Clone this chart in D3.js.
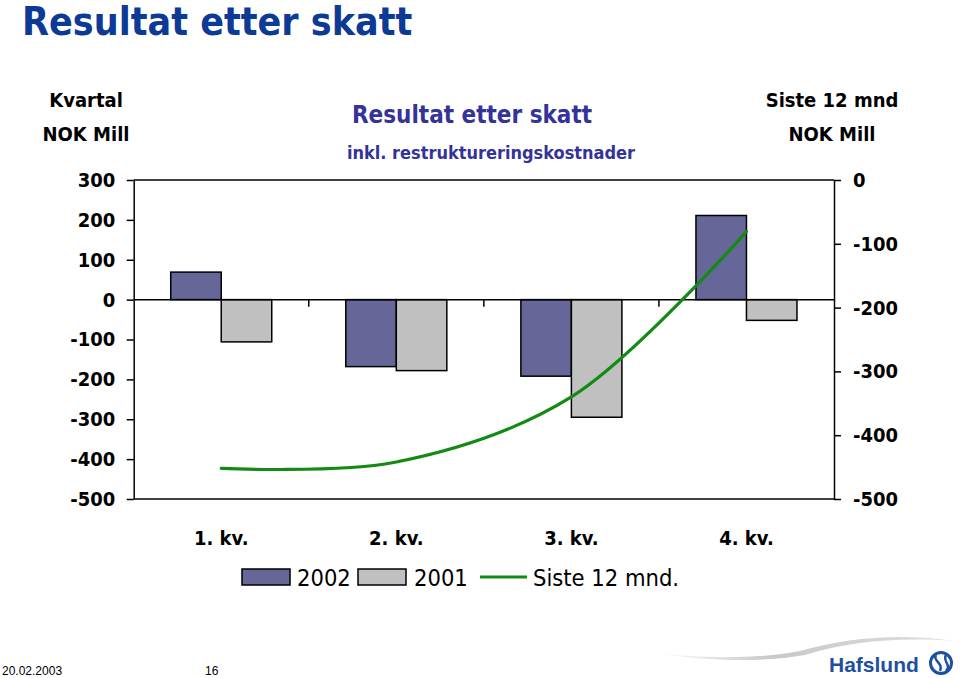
<!DOCTYPE html>
<html>
<head>
<meta charset="utf-8">
<script src="https://cdn.jsdelivr.net/npm/d3@7/dist/d3.min.js"></script>
<style>
  html, body { margin: 0; padding: 0; background: #fff; }
  svg { display: block; }
  .cond { font-family: "DejaVu Sans Condensed", "DejaVu Sans", sans-serif; font-stretch: condensed; }
</style>
</head>
<body>
<svg id="chart" width="960" height="678"></svg>
<script>
// ---- Data ----
const categories = ["1. kv.", "2. kv.", "3. kv.", "4. kv."];
const seriesNames = ["2002", "2001"];
const values2002 = [69, -168, -192, 211];
const values2001 = [-106, -178, -295, -52];
const rolling12 = [-452, -442, -340, -81];
const leftTicks = [300, 200, 100, 0, -100, -200, -300, -400, -500];
const rightTicks = [0, -100, -200, -300, -400, -500];
const lineLabel = "Siste 12 mnd.";

// ---- Layout ----
const svg = d3.select("#chart");
const plot = { left: 133.7, right: 834, top: 180, bottom: 499 };
const colors = { "2002": "#666699", "2001": "#c0c0c0" };
const fontFam = '"DejaVu Sans Condensed", "DejaVu Sans", sans-serif';

const x = d3.scaleBand().domain(categories).range([plot.left, plot.right]).padding(0);
const x1 = d3.scaleBand().domain(seriesNames).range([0, x.bandwidth()]).paddingInner(0).paddingOuter(0.733);
const y = d3.scaleLinear().domain([-500, 300]).range([plot.bottom, plot.top]);
const y2 = d3.scaleLinear().domain([-500, 0]).range([plot.bottom, plot.top]);

// Main title
svg.append("text").attr("class", "cond")
  .attr("x", 22).attr("y", 35)
  .attr("font-size", 39).attr("font-weight", "bold")
  .attr("fill", "#0d3a94")
  .text("Resultat etter skatt");

// Chart titles
svg.append("text").attr("class", "cond")
  .attr("x", 472).attr("y", 123).attr("text-anchor", "middle")
  .attr("font-size", 24).attr("font-weight", "bold").attr("fill", "#333399")
  .text("Resultat etter skatt");
svg.append("text").attr("class", "cond")
  .attr("x", 491).attr("y", 159).attr("text-anchor", "middle")
  .attr("font-size", 18).attr("font-weight", "bold").attr("fill", "#333399")
  .text("inkl. restruktureringskostnader");

// Axis titles
const axTitle = (txt, cx, cy) => svg.append("text").attr("class", "cond")
  .attr("x", cx).attr("y", cy).attr("text-anchor", "middle")
  .attr("font-size", 20).attr("font-weight", "bold").attr("fill", "#000").text(txt);
axTitle("Kvartal", 86, 107);
axTitle("NOK Mill", 86, 141);
axTitle("Siste 12 mnd", 832, 107);
axTitle("NOK Mill", 832, 141);

// Bars
const barData = categories.map((c, i) => ({ c, vals: [
  { s: "2002", v: values2002[i] }, { s: "2001", v: values2001[i] } ] }));
const g = svg.append("g");
g.selectAll("g.grp").data(barData).join("g").attr("class", "grp")
  .attr("transform", d => `translate(${x(d.c)},0)`)
  .selectAll("rect").data(d => d.vals).join("rect")
  .attr("x", d => x1(d.s))
  .attr("width", x1.bandwidth())
  .attr("y", d => y(Math.max(0, d.v)))
  .attr("height", d => Math.abs(y(d.v) - y(0)))
  .attr("fill", d => colors[d.s])
  .attr("stroke", "#000").attr("stroke-width", 1.5);

// Frame (top & bottom)
svg.append("line").attr("x1", plot.left).attr("x2", plot.right).attr("y1", plot.top).attr("y2", plot.top)
  .attr("stroke", "#000").attr("stroke-width", 1.5);
svg.append("line").attr("x1", plot.left).attr("x2", plot.right).attr("y1", plot.bottom).attr("y2", plot.bottom)
  .attr("stroke", "#000").attr("stroke-width", 1.5);

// Zero line + category boundary ticks
svg.append("line").attr("x1", plot.left).attr("x2", plot.right).attr("y1", y(0)).attr("y2", y(0))
  .attr("stroke", "#000").attr("stroke-width", 1.5);
svg.selectAll("line.cb").data(categories.slice(1)).join("line").attr("class", "cb")
  .attr("x1", d => x(d)).attr("x2", d => x(d))
  .attr("y1", y(0)).attr("y2", y(0) + 7)
  .attr("stroke", "#000").attr("stroke-width", 1.5);

// Axes
const styleAxis = sel => {
  sel.select(".domain").attr("stroke", "#000").attr("stroke-width", 1.5);
  sel.selectAll(".tick line").attr("stroke", "#000").attr("stroke-width", 1.5);
  sel.selectAll(".tick text").attr("font-family", fontFam).attr("font-stretch", "condensed")
    .attr("font-size", 20).attr("font-weight", "bold").attr("fill", "#000");
};
svg.append("g").attr("transform", `translate(${plot.left},0)`)
  .call(d3.axisLeft(y).tickValues(leftTicks).tickSize(7).tickSizeOuter(0).tickPadding(11.5).tickFormat(d => String(d)))
  .call(styleAxis);
svg.append("g").attr("transform", `translate(${plot.right},0)`)
  .call(d3.axisRight(y2).tickValues(rightTicks).tickSize(7).tickSizeOuter(0).tickPadding(12).tickFormat(d => String(d)))
  .call(styleAxis);

// Category labels
svg.selectAll("text.cat").data(categories).join("text").attr("class", "cat")
  .attr("x", d => x(d) + x.bandwidth() / 2).attr("y", 545)
  .attr("text-anchor", "middle")
  .attr("font-family", fontFam).attr("font-stretch", "condensed")
  .attr("font-size", 20).attr("font-weight", "bold").attr("fill", "#000")
  .text(d => d);

// Rolling 12 month line
const line = d3.line()
  .x((d, i) => x(categories[i]) + x.bandwidth() / 2)
  .y(d => y2(d))
  .curve(d3.curveCatmullRom.alpha(0.5));
svg.append("path").datum(rolling12).attr("d", line)
  .attr("fill", "none").attr("stroke", "#138a13").attr("stroke-width", 3.2)
  .attr("stroke-linecap", "round").attr("stroke-linejoin", "round");

// Legend
const lg = svg.append("g");
const legendItems = [
  { type: "rect", key: "2002", label: "2002", x: 242, tx: 297 },
  { type: "rect", key: "2001", label: "2001", x: 358, tx: 414 },
  { type: "line", key: "line", label: lineLabel, x: 480, tx: 533 }
];
legendItems.forEach(it => {
  if (it.type === "rect") {
    lg.append("rect").attr("x", it.x).attr("y", 569).attr("width", 48).attr("height", 16)
      .attr("fill", colors[it.key]).attr("stroke", "#000").attr("stroke-width", 1.5);
  } else {
    lg.append("line").attr("x1", it.x).attr("x2", it.x + 47).attr("y1", 577).attr("y2", 577)
      .attr("stroke", "#138a13").attr("stroke-width", 3.2);
  }
  lg.append("text").attr("x", it.tx).attr("y", 586)
    .attr("font-family", fontFam).attr("font-stretch", "condensed")
    .attr("font-size", 23.5).attr("fill", "#000").text(it.label);
});

// Footer
svg.append("text").attr("x", 2).attr("y", 675)
  .attr("font-family", '"Liberation Sans", Arial, sans-serif').attr("font-size", 12).attr("fill", "#000")
  .text("20.02.2003");
svg.append("text").attr("x", 205).attr("y", 675)
  .attr("font-family", '"Liberation Sans", Arial, sans-serif').attr("font-size", 12).attr("fill", "#000")
  .text("16");

// Logo swoosh
const defs = svg.append("defs");
const grad = defs.append("linearGradient").attr("id", "sw").attr("x1", "0").attr("x2", "1");
grad.append("stop").attr("offset", "0").attr("stop-color", "#ffffff");
grad.append("stop").attr("offset", "0.4").attr("stop-color", "#c8c8c8");
grad.append("stop").attr("offset", "1").attr("stop-color", "#e0e0e0");
svg.append("path")
  .attr("d", "M650,652 C700,659 760,659 800,651 C850,637 900,633 955,641 C900,637 850,641 805,655 C760,663 700,661 650,652 Z")
  .attr("fill", "url(#sw)");
svg.append("text").attr("x", 829).attr("y", 672)
  .attr("font-family", '"Liberation Sans", Arial, sans-serif')
  .attr("font-size", 21).attr("font-weight", "bold").attr("fill", "#1f4fa0")
  .text("Hafslund");
svg.append("circle").attr("cx", 941).attr("cy", 663).attr("r", 10.5)
  .attr("fill", "none").attr("stroke", "#1f4fa0").attr("stroke-width", 3);
svg.append("path").attr("d", "M936,655 C932,661 944,663 940,671 M946,655 C942,661 952,665 946,671")
  .attr("fill", "none").attr("stroke", "#1f4fa0").attr("stroke-width", 2.5);
</script>
</body>
</html>
